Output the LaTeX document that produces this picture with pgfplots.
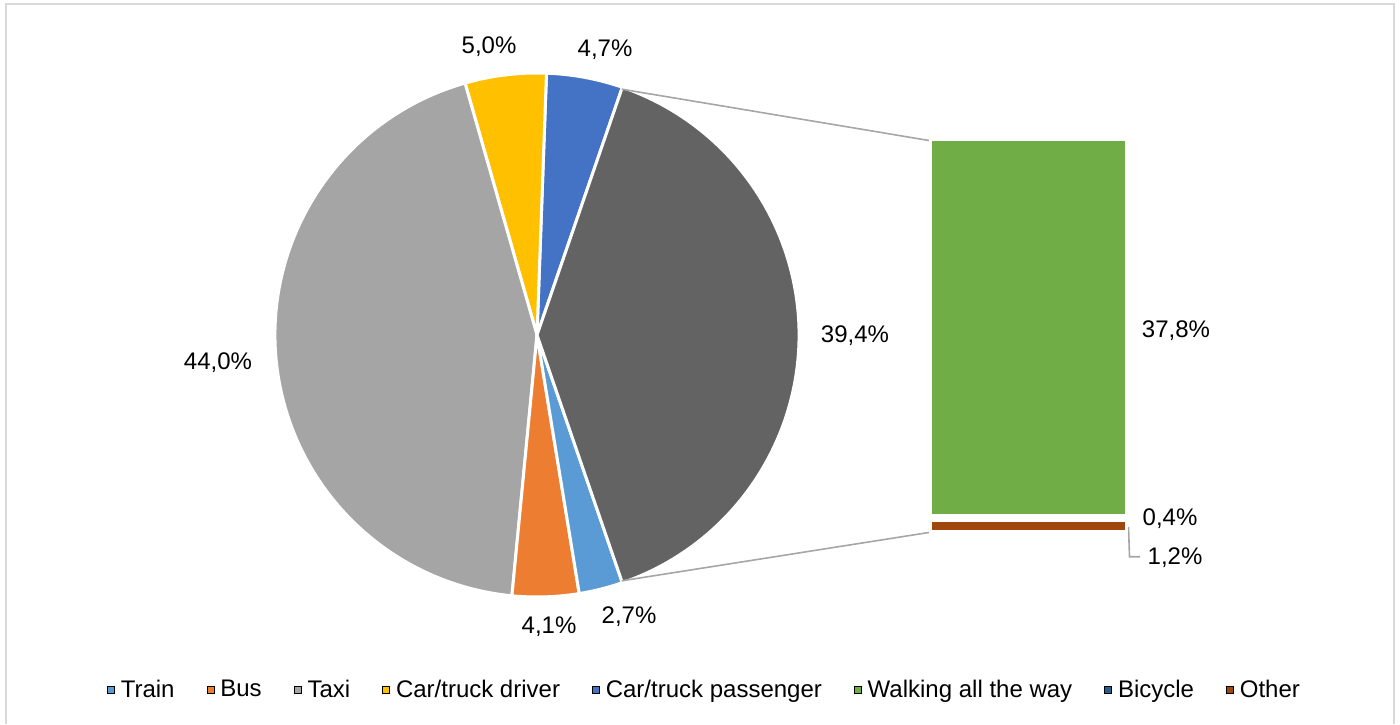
\documentclass[border=0pt]{standalone}
\usepackage{pgfplots}
\pgfplotsset{compat=1.18}
\usepackage{fontspec}
\setmainfont{Liberation Sans}
\definecolor{trainc}{HTML}{5B9BD5}
\definecolor{busc}{HTML}{ED7D31}
\definecolor{taxic}{HTML}{A5A5A5}
\definecolor{driverc}{HTML}{FFC000}
\definecolor{passc}{HTML}{4472C4}
\definecolor{walkc}{HTML}{70AD47}
\definecolor{bicyc}{HTML}{255E91}
\definecolor{otherc}{HTML}{9E480E}
\definecolor{otherpie}{HTML}{636363}
\definecolor{conn}{HTML}{A6A6A6}
\definecolor{frame}{HTML}{D9D9D9}
\begin{document}
\begin{tikzpicture}[font=\fontsize{12}{14}\selectfont]
\path[use as bounding box] (0,0) rectangle (700pt,362pt);
% pie values (percent): Train, Bus, Taxi, Car/truck driver, Car/truck passenger, Other (=37.8+0.4+1.2)
\pgfmathsetmacro{\tot}{2.7+4.1+44.0+5.0+4.7+39.4}
\pgfmathsetmacro{\aA}{39.4/\tot*180}
\pgfmathsetmacro{\aB}{\aA+4.7/\tot*360}
\pgfmathsetmacro{\aC}{\aB+5.0/\tot*360}
\pgfmathsetmacro{\aD}{\aC+44.0/\tot*360}
\pgfmathsetmacro{\aE}{\aD+4.1/\tot*360}
\pgfmathsetmacro{\aF}{\aE+2.7/\tot*360}
\pgfmathsetmacro{\aZ}{360-\aA}
\begin{axis}[at={(0,0)}, anchor=south west, x=0.5pt, y=0.5pt,
  xmin=0, xmax=1400, ymin=0, ymax=724, hide axis, clip=false,
  legend columns=8,
  legend style={at={(0.5046,0.047)}, anchor=center, draw=none, fill=none,
    font=\fontsize{12}{14}\selectfont,
    nodes={inner xsep=3pt, inner ysep=1pt},
    /tikz/every even column/.append style={column sep=13pt}},
  legend image code/.code={\fill[#1] (0pt,-1.75pt) rectangle (3.5pt,1.75pt);},
]
% frame
\draw[frame, line width=1pt] (axis cs:5.75,0) -- (axis cs:5.75,720.2) -- (axis cs:1394,720.2) -- (axis cs:1394,0);
% pie slices
\filldraw[fill=passc, draw=white, line width=1.5pt, line join=round] (axis cs:537,389) -- ++(\aA:131pt) arc[start angle=\aA, end angle=\aB, radius=131pt] -- cycle;
\filldraw[fill=driverc, draw=white, line width=1.5pt, line join=round] (axis cs:537,389) -- ++(\aB:131pt) arc[start angle=\aB, end angle=\aC, radius=131pt] -- cycle;
\filldraw[fill=taxic, draw=white, line width=1.5pt, line join=round] (axis cs:537,389) -- ++(\aC:131pt) arc[start angle=\aC, end angle=\aD, radius=131pt] -- cycle;
\filldraw[fill=busc, draw=white, line width=1.5pt, line join=round] (axis cs:537,389) -- ++(\aD:131pt) arc[start angle=\aD, end angle=\aE, radius=131pt] -- cycle;
\filldraw[fill=trainc, draw=white, line width=1.5pt, line join=round] (axis cs:537,389) -- ++(\aE:131pt) arc[start angle=\aE, end angle=\aF, radius=131pt] -- cycle;
\filldraw[fill=otherpie, draw=white, line width=1.5pt, line join=round] (axis cs:537,389) -- ++(\aZ:131pt) arc[start angle=\aZ, end angle=360+\aA, radius=131pt] -- cycle;
% connectors
\draw[conn, line width=0.8pt] (axis cs:537,389) ++(\aA:130pt) -- (axis cs:932,583);
\draw[conn, line width=0.8pt] (axis cs:537,389) ++(-\aA:130pt) -- (axis cs:932,192);
\draw[conn, line width=0.8pt] (axis cs:1128.5,197) -- (axis cs:1129.5,167.3) -- (axis cs:1140,167.3);
% labels
\node at (axis cs:489,677) {5,0\%};
\node at (axis cs:605,674) {4,7\%};
\node at (axis cs:855,388) {39,4\%};
\node at (axis cs:218,361) {44,0\%};
\node at (axis cs:549,97) {4,1\%};
\node at (axis cs:629,107) {2,7\%};
\node at (axis cs:1176,393) {37,8\%};
\node at (axis cs:1170,205) {0,4\%};
\node at (axis cs:1175,166) {1,2\%};
% legend
\addlegendimage{fill=trainc}\addlegendentry{Train}
\addlegendimage{fill=busc}\addlegendentry{Bus}
\addlegendimage{fill=taxic}\addlegendentry{Taxi}
\addlegendimage{fill=driverc}\addlegendentry{Car/truck driver}
\addlegendimage{fill=passc}\addlegendentry{Car/truck passenger}
\addlegendimage{fill=walkc}\addlegendentry{Walking all the way}
\addlegendimage{fill=bicyc}\addlegendentry{Bicycle}
\addlegendimage{fill=otherc}\addlegendentry{Other}
\end{axis}
% bar of the "Other" slice
\begin{axis}[at={(465.25pt,96pt)}, anchor=south west, width=98pt, height=196.25pt,
  scale only axis, xmin=0, xmax=1, ymin=0, ymax=39.4, enlargelimits=false,
  hide axis, clip=false, ybar stacked, bar width=98pt]
\addplot[fill=otherc, draw=white, line width=1.75pt] coordinates {(0.5,1.2)};
\addplot[fill=bicyc, draw=white, line width=1.75pt] coordinates {(0.5,0.4)};
\addplot[fill=walkc, draw=white, line width=1.75pt] coordinates {(0.5,37.8)};
\end{axis}
\end{tikzpicture}
\end{document}
